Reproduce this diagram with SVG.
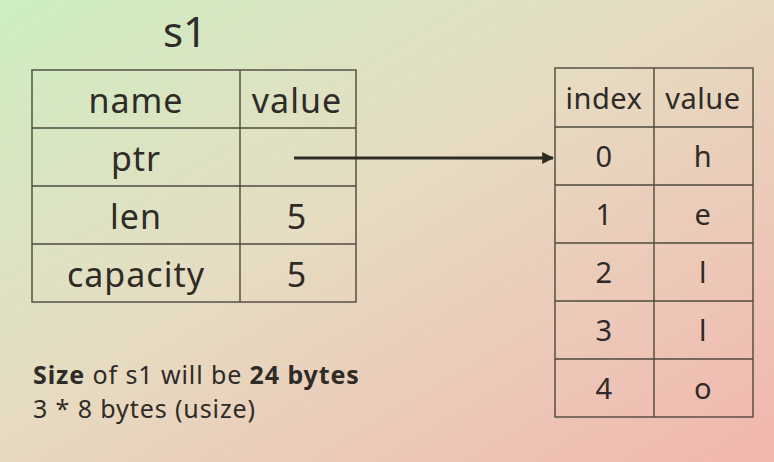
<svg xmlns="http://www.w3.org/2000/svg" width="774" height="462" viewBox="0 0 774 462">
<defs>
<linearGradient id="bg" x1="0" y1="0" x2="1" y2="1">
<stop offset="0" stop-color="#cdeec2"/>
<stop offset="0.45" stop-color="#e6dcc2"/>
<stop offset="1" stop-color="#f2b6ae"/>
</linearGradient>
<marker id="arr" viewBox="0 0 10 10" refX="9" refY="5" markerWidth="4" markerHeight="4" orient="auto" markerUnits="strokeWidth">
<path d="M0,0 L10,5 L0,10 z" fill="#2e2b22"/>
</marker>
<style>
.t{font-family:"Noto Sans","Open Sans",sans-serif;fill:#2f2b26;text-anchor:middle}
.l{font-size:34px;letter-spacing:1px}
.r{font-size:29px;letter-spacing:0.5px}
.cell{fill:none;stroke:#4e483c;stroke-width:1.4}
.b{font-family:"Noto Sans","Open Sans",sans-serif;fill:#2f2b26;font-size:25px;letter-spacing:0.9px}
</style>
</defs>
<rect width="774" height="462" fill="url(#bg)"/>
<g id="s1">
<text class="t" x="185" y="47" font-size="42">s1</text>
<rect class="cell" x="32" y="70" width="324" height="232"/>
<line class="cell" x1="240" y1="70" x2="240" y2="302"/>
<line class="cell" x1="32" y1="128" x2="356" y2="128"/>
<line class="cell" x1="32" y1="186" x2="356" y2="186"/>
<line class="cell" x1="32" y1="244" x2="356" y2="244"/>
<text class="t l" x="136" y="113">name</text>
<text class="t l" x="297" y="113">value</text>
<text class="t l" x="136" y="171">ptr</text>
<text class="t l" x="136" y="229">len</text>
<text class="t l" x="297" y="229">5</text>
<text class="t l" x="136" y="287">capacity</text>
<text class="t l" x="297" y="287">5</text>
</g>
<g id="heap">
<rect class="cell" x="555" y="68" width="198" height="349"/>
<line class="cell" x1="654" y1="68" x2="654" y2="417"/>
<line class="cell" x1="555" y1="127" x2="753" y2="127"/>
<line class="cell" x1="555" y1="185" x2="753" y2="185"/>
<line class="cell" x1="555" y1="243" x2="753" y2="243"/>
<line class="cell" x1="555" y1="301" x2="753" y2="301"/>
<line class="cell" x1="555" y1="359" x2="753" y2="359"/>
<text class="t r" x="604" y="109">index</text>
<text class="t r" x="703" y="109">value</text>
<text class="t r" x="604" y="167">0</text>
<text class="t r" x="703" y="167">h</text>
<text class="t r" x="604" y="225">1</text>
<text class="t r" x="703" y="225">e</text>
<text class="t r" x="604" y="283">2</text>
<text class="t r" x="703" y="283">l</text>
<text class="t r" x="604" y="341">3</text>
<text class="t r" x="703" y="341">l</text>
<text class="t r" x="604" y="399">4</text>
<text class="t r" x="703" y="399">o</text>
</g>
<g id="connectors">
<line x1="294" y1="158" x2="553" y2="158" stroke="#2e2b22" stroke-width="3" marker-end="url(#arr)"/>
</g>
<g id="note">
<text class="b" x="33" y="384"><tspan font-weight="bold">Size</tspan> of s1 will be <tspan font-weight="bold">24 bytes</tspan></text>
<text class="b" x="33" y="418">3 * 8 bytes (usize)</text>
</g>
</svg>
